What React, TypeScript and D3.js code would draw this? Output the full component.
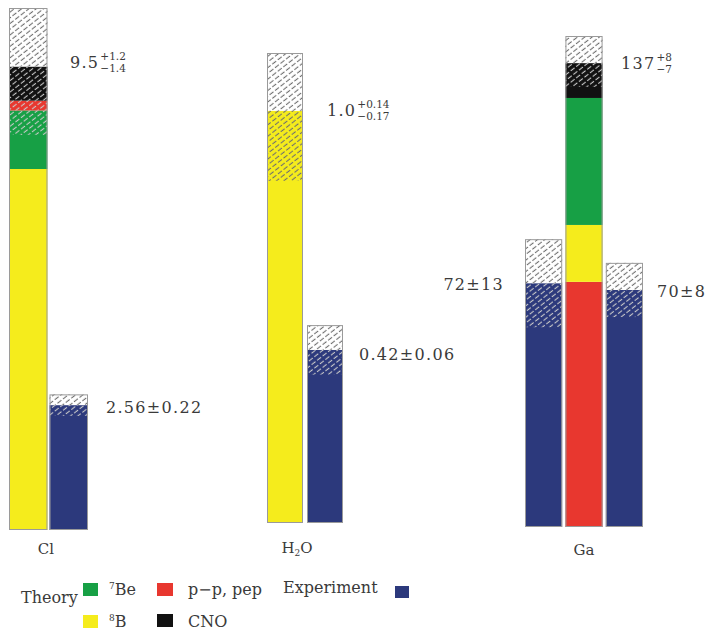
import React from "react";
import * as d3 from "d3";

// ---------- data ----------
const detectors = ["Cl", "H2O", "Ga"];

const sourceNames = ["7Be", "8B", "pp", "CNO"];
const sourceColors = ["#17a045", "#f5ec1c", "#e8372f", "#111111"];
const experimentColor = "#2c397c";

// theory stacks, listed bottom to top
const clSources = ["8B", "7Be", "pp", "CNO"];
const clFlux = [7.4, 1.2, 0.2, 0.7];
const h2oSources = ["8B"];
const h2oFlux = [1.0];
const gaSources = ["pp", "8B", "7Be", "CNO"];
const gaFlux = [72.4, 16.8, 37.5, 10.3];

const theoryCentral = [9.5, 1.0, 137];
const theoryErrUp = [1.2, 0.14, 8];
const theoryErrDown = [1.4, 0.17, 7];
const theoryLabelMain = ["9.5", "1.0", "137"];
const theoryLabelUp = ["+1.2", "+0.14", "+8"];
const theoryLabelDown = ["\u22121.4", "\u22120.17", "\u22127"];

const clExperiment = [2.56];
const clExperimentErr = [0.22];
const h2oExperiment = [0.42];
const h2oExperimentErr = [0.06];
const gaExperiment = [72, 70];
const gaExperimentErr = [13, 8];
const experimentLabels = [["2.56\u00b10.22"], ["0.42\u00b10.06"], ["72\u00b113", "70\u00b18"]];

// ---------- helpers ----------
const colorOf = (s: string) => sourceColors[sourceNames.indexOf(s)];

const FONT = "'DejaVu Serif', 'Liberation Serif', serif";
const TEXT = "#3a3a3a";
const NUM_FS = 16;
const NUM_LS = 1.3;

const textWidth = (s: string, fs: number, ls: number) =>
  s.split("").reduce((w, ch) => w + (ch === "." ? 0.318 : 0.636) * fs + ls, 0);

type Layout = {
  x0: number; x1: number; base: number; top: number; max: number;
  order: string[]; pad: number;
};

export default function App() {
  const W = 712, H = 632;

  const sourcesBy = [clSources, h2oSources, gaSources];
  const fluxBy = [clFlux, h2oFlux, gaFlux];
  const expBy = [clExperiment, h2oExperiment, gaExperiment];
  const expErrBy = [clExperimentErr, h2oExperimentErr, gaExperimentErr];

  const layouts: Layout[] = [
    { x0: 9, x1: 88, base: 530, top: 8, max: 10.7, order: ["theory", "exp0"], pad: 0.05 },
    { x0: 267, x1: 343, base: 523, top: 53, max: 1.14, order: ["theory", "exp0"], pad: 0.1 },
    { x0: 525, x1: 643, base: 527, top: 36, max: 145, order: ["exp0", "theory", "exp1"], pad: 0.08 },
  ];

  const theoryLabelPos = [
    { x: 70, y: 68 },
    { x: 327, y: 116 },
    { x: 621, y: 69 },
  ];
  const expLabelPos = [
    [{ x: 106, y: 413, anchor: "start" }],
    [{ x: 359, y: 360, anchor: "start" }],
    [{ x: 504, y: 290, anchor: "end" }, { x: 657, y: 297, anchor: "start" }],
  ];
  const catLabelPos = [
    { x: 46, y: 554 },
    { x: 297, y: 553 },
    { x: 584, y: 555 },
  ];

  const bars: React.ReactNode[] = [];
  const labels: React.ReactNode[] = [];

  detectors.forEach((det, i) => {
    const L = layouts[i];
    const y = d3.scaleLinear().domain([0, L.max]).range([L.base, L.top]);
    const x = d3.scaleBand<string>().domain(L.order).range([L.x0, L.x1]).paddingInner(L.pad);
    const bw = x.bandwidth();

    // theory stack
    const tx = x("theory")!;
    const stackData = [Object.fromEntries(sourcesBy[i].map((s, k) => [s, fluxBy[i][k]]))];
    const series = d3.stack<any>().keys(sourcesBy[i])(stackData);
    const central = theoryCentral[i];
    const lo = central - theoryErrDown[i];
    const hi = central + theoryErrUp[i];

    series.forEach((sr) => {
      const [a, b] = sr[0];
      const c = colorOf(sr.key);
      bars.push(
        <rect key={`t-${i}-${sr.key}`} x={tx} width={bw} y={y(b)} height={y(a) - y(b)} fill={c} />
      );
      const ha = Math.max(a, lo), hb = Math.min(b, central);
      if (hb > ha) {
        const pat = sr.key === "8B" ? "url(#hatchDark)" : "url(#hatchLight)";
        bars.push(
          <rect key={`th-${i}-${sr.key}`} x={tx} width={bw} y={y(hb)} height={y(ha) - y(hb)} fill={pat} />
        );
      }
    });
    bars.push(
      <g key={`tu-${i}`}>
        <rect x={tx} width={bw} y={y(hi)} height={y(central) - y(hi)} fill="#fff" />
        <rect x={tx} width={bw} y={y(hi)} height={y(central) - y(hi)} fill="url(#hatchDark)" />
      </g>
    );
    bars.push(
      <rect key={`to-${i}`} x={tx + 0.5} width={bw - 1} y={y(hi) + 0.5} height={y(0) - y(hi) - 1}
        fill="none" stroke="#9a9a9a" strokeWidth={1} />
    );

    // experiments
    expBy[i].forEach((v, k) => {
      const ex = x(`exp${k}`)!;
      const e = expErrBy[i][k];
      bars.push(
        <g key={`e-${i}-${k}`}>
          <rect x={ex} width={bw} y={y(v)} height={y(0) - y(v)} fill={experimentColor} />
          <rect x={ex} width={bw} y={y(v)} height={y(v - e) - y(v)} fill="url(#hatchLight)" />
          <rect x={ex} width={bw} y={y(v + e)} height={y(v) - y(v + e)} fill="#fff" />
          <rect x={ex} width={bw} y={y(v + e)} height={y(v) - y(v + e)} fill="url(#hatchDark)" />
          <rect x={ex + 0.5} width={bw - 1} y={y(v + e) + 0.5} height={y(0) - y(v + e) - 1}
            fill="none" stroke="#9a9a9a" strokeWidth={1} />
        </g>
      );
      const p = expLabelPos[i][k];
      labels.push(
        <text key={`el-${i}-${k}`} x={p.x} y={p.y} textAnchor={p.anchor as any}
          fontFamily={FONT} fontSize={NUM_FS} fill={TEXT} letterSpacing={NUM_LS}>
          {experimentLabels[i][k]}
        </text>
      );
    });

    // theory label with super/subscripts
    const tp = theoryLabelPos[i];
    const mainW = textWidth(theoryLabelMain[i], NUM_FS, NUM_LS) + 1;
    labels.push(
      <g key={`tl-${i}`} fontFamily={FONT} fill={TEXT}>
        <text x={tp.x} y={tp.y} fontSize={NUM_FS} letterSpacing={NUM_LS}>{theoryLabelMain[i]}</text>
        <text x={tp.x + mainW} y={tp.y - 8} fontSize={10.5}>{theoryLabelUp[i]}</text>
        <text x={tp.x + mainW} y={tp.y + 4} fontSize={10.5}>{theoryLabelDown[i]}</text>
      </g>
    );

    // category label
    const cp = catLabelPos[i];
    labels.push(
      <text key={`cl-${i}`} x={cp.x} y={cp.y} textAnchor="middle" fontFamily={FONT} fontSize={15} fill={TEXT}>
        {det === "H2O" ? (<>H<tspan fontSize={9} dy={3}>2</tspan><tspan dy={-3}>O</tspan></>) : det}
      </text>
    );
  });

  const sq = (key: string, x: number, y: number, c: string, w = 15, h = 13) => (
    <rect key={key} x={x} y={y} width={w} height={h} fill={c} />
  );

  return (
    <svg width={W} height={H} style={{ position: "absolute", left: 0, top: 0, background: "#fff" }}>
      <defs>
        <pattern id="hatchDark" patternUnits="userSpaceOnUse" width={7} height={4.5}
          patternTransform="rotate(-38)">
          <line x1={0} y1={2.2} x2={5} y2={2.2} stroke="#6e6e6e" strokeWidth={1.1} />
        </pattern>
        <pattern id="hatchLight" patternUnits="userSpaceOnUse" width={7} height={4.5}
          patternTransform="rotate(-38)">
          <line x1={0} y1={2.2} x2={5} y2={2.2} stroke="#c8c8c8" strokeWidth={1.1} />
        </pattern>
      </defs>
      <rect width={W} height={H} fill="#fff" />
      {bars}
      {labels}
      <g fontFamily={FONT} fill={TEXT} fontSize={16}>
        <text x={21} y={603}>Theory</text>
        {sq("lg-be", 83, 583, colorOf("7Be"))}
        <text x={109} y={595}><tspan fontSize={9} dy={-6}>7</tspan><tspan dy={6}>Be</tspan></text>
        {sq("lg-pp", 157, 583, colorOf("pp"), 16, 13)}
        <text x={188} y={595}>p{"\u2212"}p, pep</text>
        <text x={283} y={593}>Experiment</text>
        {sq("lg-exp", 395, 586, experimentColor, 14, 12)}
        {sq("lg-b8", 83, 615, colorOf("8B"))}
        <text x={109} y={627}><tspan fontSize={9} dy={-6}>8</tspan><tspan dy={6}>B</tspan></text>
        {sq("lg-cno", 157, 614, colorOf("CNO"), 16, 13)}
        <text x={188} y={627}>CNO</text>
      </g>
    </svg>
  );
}
